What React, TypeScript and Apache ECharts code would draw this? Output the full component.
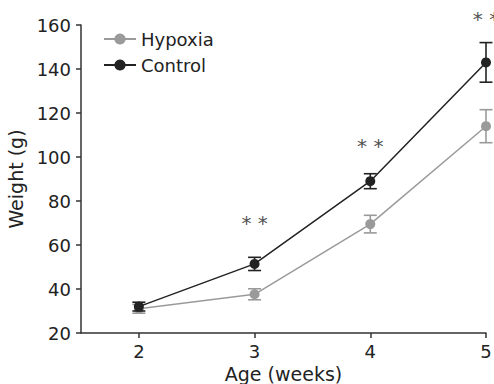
import React, { useEffect, useRef } from "react";
import * as echarts from "echarts";

const weeks = [2, 3, 4, 5];
const hypoxiaMean = [31, 37.6, 69.5, 114];
const hypoxiaErr = [2, 2.5, 4, 7.5];
const controlMean = [32, 51.4, 89, 143];
const controlErr = [2, 3, 3.4, 9];
const sigWeeks = [3, 4, 5];
const sigY = [70.5, 105.5, 163];

const FONT = "DejaVu Sans";
const HYP = "#9a9a9a";
const CTL = "#222222";

function errSeries(name: string, means: number[], errs: number[], color: string) {
  return {
    type: "custom",
    name: name + "-err",
    z: name === "Control" ? 4 : 2,
    silent: true,
    clip: false,
    data: weeks.map((w, i) => [w, means[i] - errs[i], means[i] + errs[i]]),
    renderItem: (params: any, api: any) => {
      const x = api.value(0);
      const lo = api.coord([x, api.value(1)]);
      const hi = api.coord([x, api.value(2)]);
      const hw = 6.5;
      const style = { stroke: color, lineWidth: 1.6 };
      return {
        type: "group",
        children: [
          { type: "line", shape: { x1: lo[0], y1: lo[1], x2: hi[0], y2: hi[1] }, style },
          { type: "line", shape: { x1: lo[0] - hw, y1: lo[1], x2: lo[0] + hw, y2: lo[1] }, style },
          { type: "line", shape: { x1: hi[0] - hw, y1: hi[1], x2: hi[0] + hw, y2: hi[1] }, style },
        ],
      };
    },
  };
}

export default function App() {
  const ref = useRef<HTMLDivElement>(null);
  useEffect(() => {
    if (!ref.current) return;
    const chart = echarts.init(ref.current, null, { renderer: "svg" });
    const axisLine = { lineStyle: { color: "#333", width: 1.5 } };
    chart.setOption({
      animation: false,
      backgroundColor: "#fff",
      grid: { left: 81, right: 8, top: 25, bottom: 51, outerBoundsMode: "none", containLabel: false },
      legend: {
        orient: "vertical",
        left: 98,
        top: 25,
        itemGap: 8,
        itemWidth: 32,
        itemHeight: 14,
        textStyle: { fontFamily: FONT, fontSize: 18, color: "#222", padding: [0, 0, 0, 0] },
        data: ["Hypoxia", "Control"],
      },
      xAxis: {
        type: "value",
        min: 1.5,
        max: 5,
        name: "Age (weeks)",
        nameLocation: "middle",
        nameGap: 30,
        nameTextStyle: { fontFamily: FONT, fontSize: 19, color: "#222" },
        axisLine: { ...axisLine, onZero: false },
        axisTick: { show: true, length: 5, customValues: weeks, lineStyle: { color: "#333", width: 1.5 } },
        axisLabel: { customValues: weeks, fontFamily: FONT, fontSize: 18, color: "#222", margin: 9 },
        splitLine: { show: false },
      },
      yAxis: {
        type: "value",
        min: 20,
        max: 160,
        interval: 20,
        name: "Weight (g)",
        nameLocation: "middle",
        nameGap: 48,
        nameTextStyle: { fontFamily: FONT, fontSize: 19, color: "#222" },
        axisLine: { ...axisLine, show: true },
        axisTick: { show: true, length: 5, lineStyle: { color: "#333", width: 1.5 } },
        axisLabel: { fontFamily: FONT, fontSize: 18, color: "#222", margin: 10 },
        splitLine: { show: false },
      },
      series: [
        errSeries("Hypoxia", hypoxiaMean, hypoxiaErr, HYP),
        {
          type: "line",
          name: "Hypoxia",
          z: 3,
          data: weeks.map((w, i) => [w, hypoxiaMean[i]]),
          symbol: "circle",
          symbolSize: 10,
          itemStyle: { color: HYP },
          lineStyle: { color: HYP, width: 1.5 },
        },
        errSeries("Control", controlMean, controlErr, CTL),
        {
          type: "line",
          name: "Control",
          z: 5,
          data: weeks.map((w, i) => [w, controlMean[i]]),
          symbol: "circle",
          symbolSize: 10,
          itemStyle: { color: CTL },
          lineStyle: { color: CTL, width: 1.5 },
        },
        {
          type: "scatter",
          name: "sig",
          symbolSize: 0,
          clip: false,
          silent: true,
          data: sigWeeks.map((w, i) => [w, sigY[i]]),
          label: {
            show: true,
            position: "inside",
            formatter: "* *",
            fontFamily: FONT,
            fontSize: 20,
            color: "#222",
            offset: [0, 1],
          },
        },
      ],
    });
    return () => chart.dispose();
  }, []);
  return <div ref={ref} style={{ width: 494, height: 384, position: "absolute", left: 0, top: 0 }} />;
}
